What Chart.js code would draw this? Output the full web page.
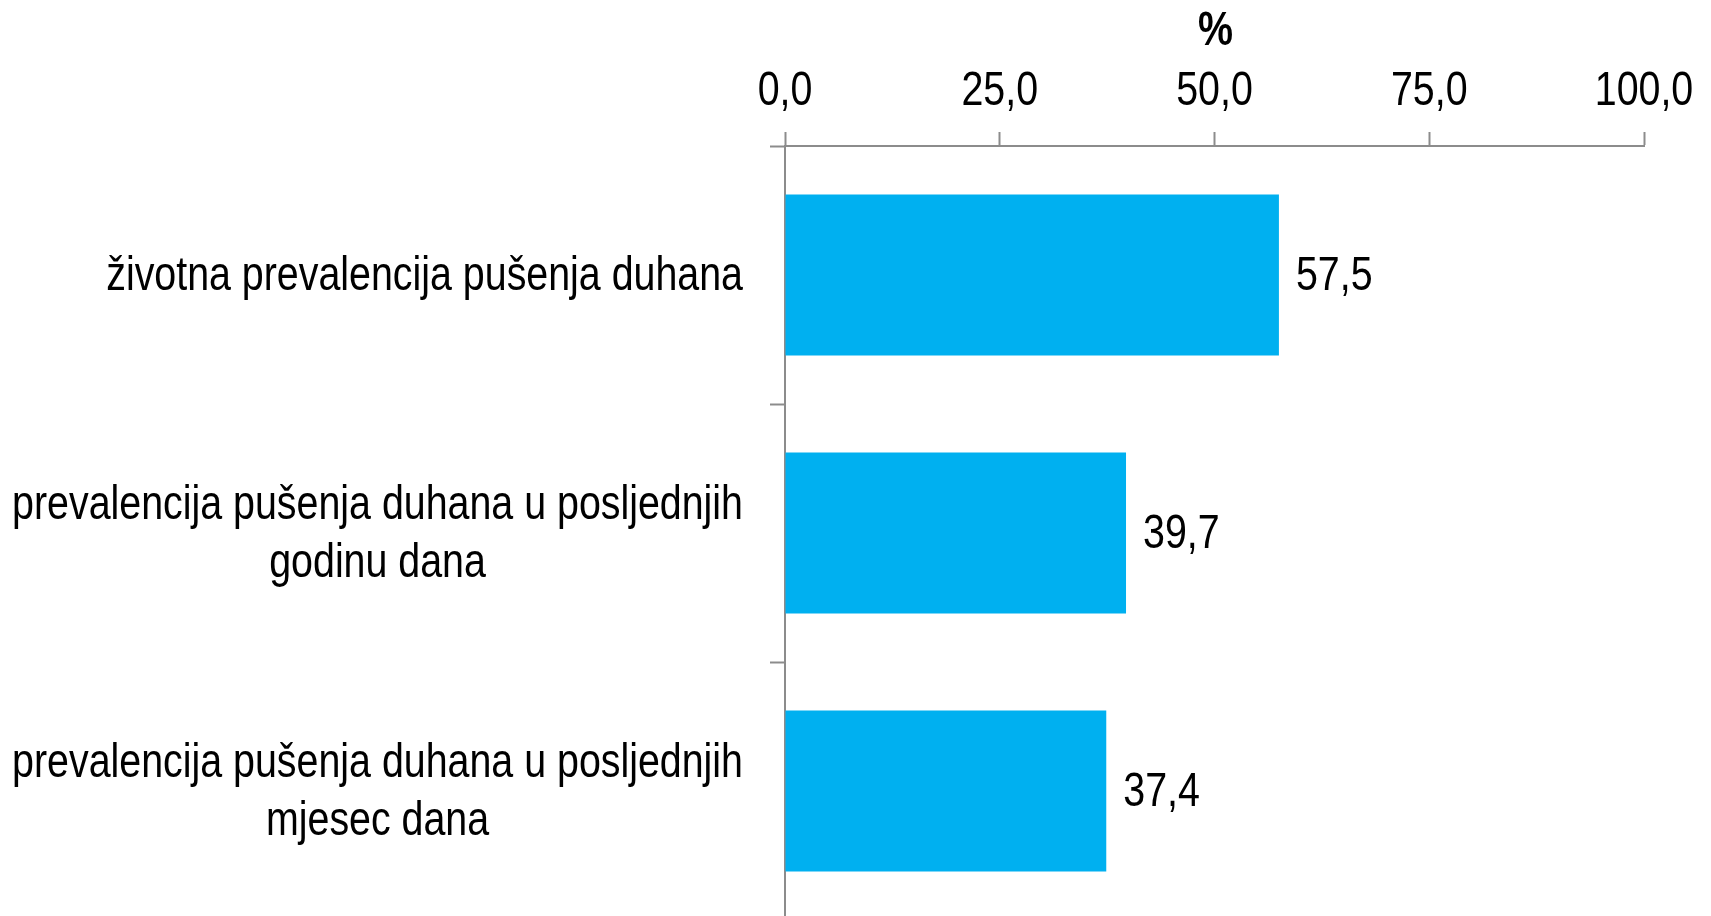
<!DOCTYPE html>
<html>
<head>
<meta charset="utf-8">
<script src="https://cdn.jsdelivr.net/npm/chart.js"></script>
<style>
  html, body { margin: 0; padding: 0; background: #fff; overflow: hidden; }
  #wrap { width: 1711px; height: 920px; }
</style>
</head>
<body>
<div id="wrap"><canvas id="grafikon"></canvas></div>
<script>
const kategorije = [
    ['životna prevalencija pušenja duhana'],
    ['prevalencija pušenja duhana u posljednjih', 'godinu dana'],
    ['prevalencija pušenja duhana u posljednjih', 'mjesec dana']
];
const vrijednosti = [57.5, 39.7, 37.4];
const osMin = 0;
const osMax = 100;
const korak = 25;
const naslovOsi = '%';

const FONT = "'Liberation Sans', Arial, sans-serif";
const SX = 0.82;          // suzeni font (kao Arial Narrow)
const SIVA = '#8c8c8c';

function formatBroj(v) {
    return v.toFixed(1).replace('.', ',');
}

// crta tekst horizontalno suzen
function tekst(ctx, s, x, y, align) {
    const w = ctx.measureText(s).width * SX;
    let x0 = x;
    if (align === 'center') x0 = x - w / 2;
    else if (align === 'right') x0 = x - w;
    ctx.save();
    ctx.translate(x0, y);
    ctx.scale(SX, 1);
    ctx.textAlign = 'left';
    ctx.fillText(s, 0, 0);
    ctx.restore();
    return w;
}

const oznakePlugin = {
    id: 'oznake',
    afterDraw(chart) {
        const ctx = chart.ctx;
        const xs = chart.scales.x;
        const ys = chart.scales.y;
        ctx.save();
        ctx.fillStyle = '#000';

        // naslov osi
        ctx.textBaseline = 'alphabetic';
        ctx.font = 'bold 48px ' + FONT;
        tekst(ctx, naslovOsi, (xs.left + xs.right) / 2 + 1, 45, 'center');

        // oznake na osi x
        ctx.font = '48px ' + FONT;
        xs.ticks.forEach(t => {
            tekst(ctx, formatBroj(t.value), xs.getPixelForValue(t.value), 105, 'center');
        });

        // kategorije: linije centrirane medusobno, blok poravnat desno
        ctx.textBaseline = 'middle';
        const desno = ys.right - 42;
        const lh = 58;
        kategorije.forEach((linije, i) => {
            const sirina = Math.max(...linije.map(l => ctx.measureText(l).width * SX));
            const cx = desno - sirina / 2;
            const cy = ys.getPixelForTick(i) + 2;
            const start = cy - (linije.length - 1) * lh / 2;
            linije.forEach((l, j) => tekst(ctx, l, cx, start + j * lh, 'center'));
        });

        // vrijednosti uz stupce
        const meta = chart.getDatasetMeta(0);
        meta.data.forEach((bar, i) => {
            tekst(ctx, formatBroj(vrijednosti[i]), bar.x + 17, bar.y + 2, 'left');
        });
        ctx.restore();
    }
};

new Chart(document.getElementById('grafikon'), {
    type: 'bar',
    data: {
        labels: kategorije.map(k => k.join(' ')),
        datasets: [{
            data: vrijednosti,
            backgroundColor: '#00b0f0',
            categoryPercentage: 1,
            barPercentage: 0.624
        }]
    },
    options: {
        indexAxis: 'y',
        responsive: true,
        maintainAspectRatio: false,
        animation: false,
        layout: { padding: { left: 0, right: 67, top: 0, bottom: 0 } },
        plugins: {
            legend: { display: false },
            tooltip: { enabled: false }
        },
        scales: {
            x: {
                position: 'top',
                min: osMin,
                max: osMax,
                ticks: { stepSize: korak, display: false },
                grid: {
                    drawOnChartArea: false,
                    tickLength: 14,
                    tickWidth: 2,
                    color: SIVA
                },
                border: { color: SIVA, width: 2 },
                afterFit(scale) { scale.height = 146; }
            },
            y: {
                ticks: { display: false },
                grid: {
                    offset: true,
                    drawOnChartArea: false,
                    tickLength: 15,
                    tickWidth: 2,
                    color: SIVA
                },
                border: { color: SIVA, width: 2 },
                afterFit(scale) { scale.width = 785; }
            }
        }
    },
    plugins: [oznakePlugin]
});
</script>
</body>
</html>
